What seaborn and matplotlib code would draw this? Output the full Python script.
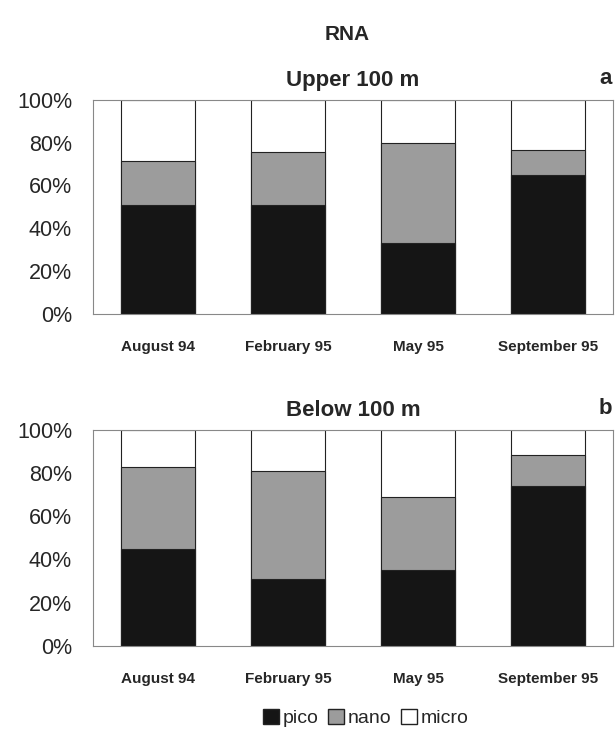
import matplotlib
matplotlib.use("Agg")
import matplotlib.pyplot as plt
import seaborn as sns
import pandas as pd
import numpy as np
from matplotlib.patches import Patch

sns.set_theme(style="white")
plt.rcParams['font.family'] = ['Liberation Sans', 'DejaVu Sans']

months = ["August 94", "February 95", "May 95", "September 95"]
upper_pico = [51, 51, 33, 65]
upper_nano = [20.5, 24.5, 47, 11.5]
lower_pico = [45, 31, 35, 74]
lower_nano = [38, 50, 34, 14.5]

PICO = "#151515"
NANO = "#9c9c9c"
MICRO = "#ffffff"

fig = plt.figure(figsize=(6.15, 7.44), dpi=100)
ax1 = fig.add_axes([0.151, 0.578, 0.846, 0.288])
ax2 = fig.add_axes([0.151, 0.132, 0.846, 0.290])

def draw(ax, pico, nano, title, letter):
    pico = np.array(pico, float)
    nano = np.array(nano, float)
    df = pd.DataFrame({"month": months, "pico": pico,
                       "pn": pico + nano, "all": np.full(len(months), 100.0)})
    for col, c in [("all", MICRO), ("pn", NANO), ("pico", PICO)]:
        sns.barplot(data=df, x="month", y=col, color=c, ax=ax, width=0.57,
                    edgecolor="#222222", linewidth=0.8, saturation=1)
    ax.set_xlim(-0.5, 3.5)
    ax.set_ylim(0, 100)
    ax.set_yticks([0, 20, 40, 60, 80, 100])
    ax.set_yticklabels([f"{v}%" for v in [0, 20, 40, 60, 80, 100]], fontsize=15.5)
    ax.set_xticks(range(len(months)))
    ax.set_xticklabels(months, fontsize=11, fontweight="bold")
    ax.tick_params(axis="x", length=0, pad=19)
    ax.tick_params(axis="y", length=0, pad=15)
    ax.set_xlabel("")
    ax.set_ylabel("")
    for s in ax.spines.values():
        s.set_color("#888888")
        s.set_linewidth(0.8)
    ax.set_title(title, fontsize=16, fontweight="bold", pad=10)
    ax.text(0.985, 1.05, letter, transform=ax.transAxes, fontsize=16,
            fontweight="bold", ha="center", va="bottom")

draw(ax1, upper_pico, upper_nano, "Upper 100 m", "a")
draw(ax2, lower_pico, lower_nano, "Below 100 m", "b")

fig.text(0.565, 0.946, "RNA", fontsize=15, fontweight="bold", ha="center")

handles = [Patch(facecolor=PICO, edgecolor="#222222", label="pico"),
           Patch(facecolor=NANO, edgecolor="#222222", label="nano"),
           Patch(facecolor=MICRO, edgecolor="#222222", label="micro")]
fig.legend(handles=handles, loc="center", bbox_to_anchor=(0.595, 0.035), ncol=3,
           frameon=False, fontsize=14, handlelength=0.8, handleheight=0.8,
           handletextpad=0.2, columnspacing=0.5)

fig.savefig("out.png", dpi=100)
